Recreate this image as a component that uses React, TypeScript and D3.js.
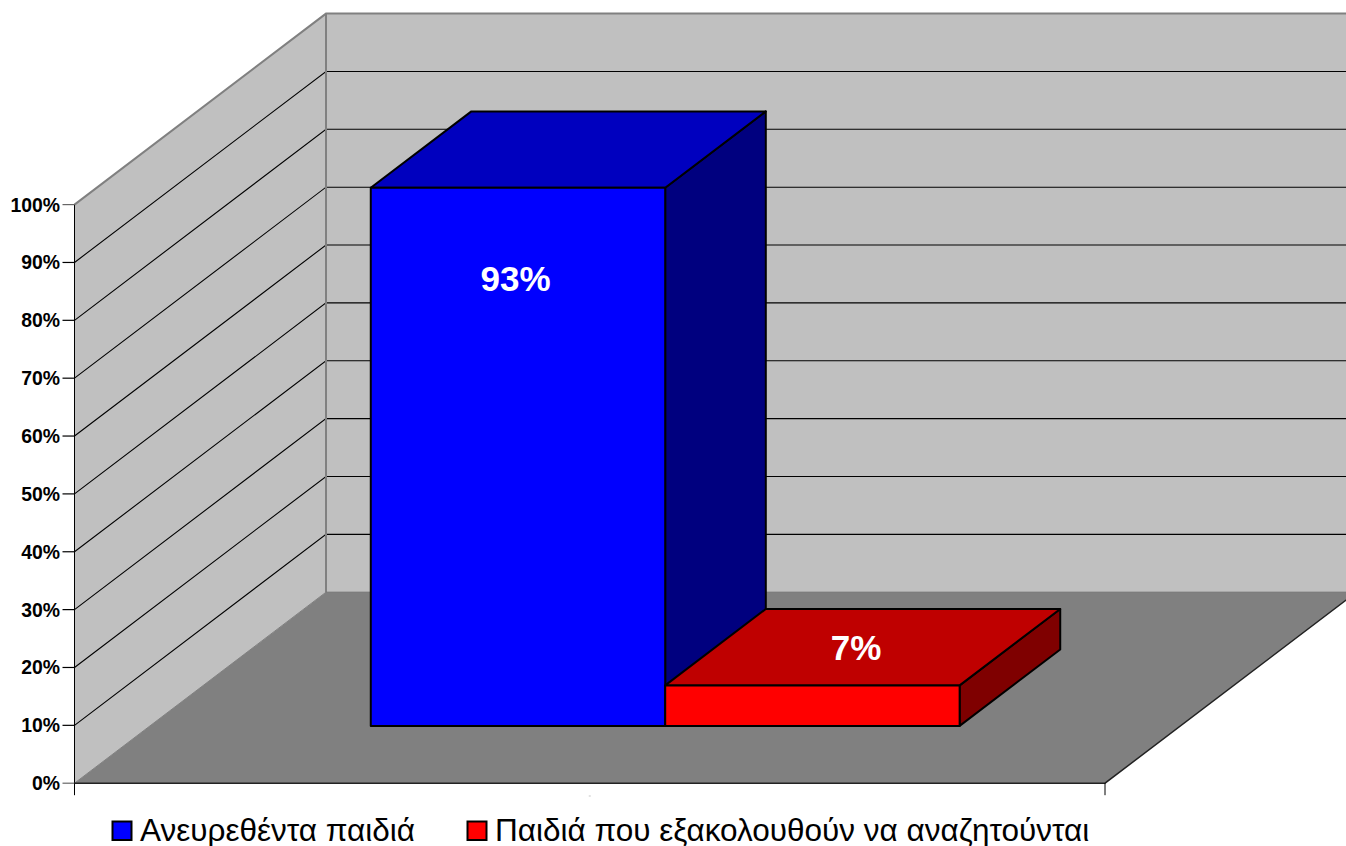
import React from "react";
import * as d3 from "d3";

const seriesNames = ["Ανευρεθέντα παιδιά", "Παιδιά που εξακολουθούν να αναζητούνται"];
const seriesValues = [93, 7];
const valueLabels = ["93%", "7%"];
const seriesFront = ["#0000ff", "#ff0000"];
const seriesTop = ["#0000bf", "#bf0000"];
const seriesSide = ["#00007f", "#7f0000"];
const ticks = [0, 10, 20, 30, 40, 50, 60, 70, 80, 90, 100];

const W = 1346, H = 846;
const sy = d3.scaleLinear().domain([0, 100]).range([783.2, 204.6]);
const sx = d3.scaleLinear().domain([0, 1]).range([74.5, 1105]);
const dx = d3.scaleLinear().domain([0, 1]).range([0, 251.5]);
const dy = d3.scaleLinear().domain([0, 1]).range([0, -191]);
const band = d3.scaleBand<number>().domain([0, 1]).range([0, 1]).paddingInner(0).paddingOuter(0.75);

const P = (x: number, v: number, d: number): [number, number] => [sx(x) + dx(d), sy(v) + dy(d)];
const poly = (pts: [number, number][]) => d3.line()(pts)! + "Z";

const D0 = 0.3, D1 = 0.7;
const FONT = "'Liberation Sans', Arial, sans-serif";

export default function App() {
  return (
    <svg width={W} height={H} style={{ position: "absolute", left: 0, top: 0, background: "#fff" }} fontFamily={FONT}>
      {/* walls */}
      <path d={poly([P(0, 0, 0), P(0, 100, 0), P(0, 100, 1), P(0, 0, 1)])} fill="#c0c0c0" />
      <path d={poly([P(0, 0, 1), P(0, 100, 1), P(1, 100, 1), P(1, 0, 1)])} fill="#c0c0c0" />
      {/* floor */}
      <path d={poly([P(0, 0, 0), P(0, 0, 1), P(1, 0, 1), P(1, 0, 0)])} fill="#808080" />
      {/* gridlines */}
      {ticks.filter(t => t > 0 && t < 100).map(t => (
        <path key={t} d={d3.line()([P(0, t, 0), P(0, t, 1), P(1, t, 1)])!} fill="none" stroke="#000" strokeWidth={1.1} />
      ))}
      {/* wall outline */}
      <path d={d3.line()([P(0, 100, 0), P(0, 100, 1), P(1, 100, 1)])!} fill="none" stroke="#808080" strokeWidth={2} />
      <path d={d3.line()([P(0, 100, 1), P(0, 0, 1)])!} fill="none" stroke="#808080" strokeWidth={2} />
      <path d={d3.line()([P(0, 0, 1), P(1, 0, 1)])!} fill="none" stroke="#707070" strokeWidth={1} />
      <path d={d3.line()([P(0, 0, 0), P(0, 0, 1)])!} fill="none" stroke="#808080" strokeWidth={1} />
      {/* axes */}
      <path d={d3.line()([P(0, 100, 0), P(0, 0, 0)])!} fill="none" stroke="#000" strokeWidth={1} />
      <path d={d3.line()([P(0, 0, 0), P(1, 0, 0), P(1, 0, 1)])!} fill="none" stroke="#222" strokeWidth={1.5} />
      {ticks.map(t => (
        <g key={t}>
          <line x1={sx(0) - 12} x2={sx(0)} y1={sy(t)} y2={sy(t)} stroke={t === 0 || t === 100 ? "#666" : "#000"} strokeWidth={1.2} />
          <text x={sx(0) - 14.5} y={sy(t)} dy="0.36em" textAnchor="end" fontSize={19.4} fontWeight={700} fill="#000">{t}%</text>
        </g>
      ))}
      {[0, 1].map(x => (
        <line key={x} x1={sx(x)} x2={sx(x)} y1={sy(0)} y2={sy(0) + 12} stroke="#000" strokeWidth={1} />
      ))}
      <rect x={sx(0.5) - 1} y={795} width={2} height={2} fill="#e2e2e2" />
      {/* bars */}
      {seriesValues.map((v, i) => {
        const x0 = band(i)!, x1 = x0 + band.bandwidth();
        const common = { stroke: "#000", strokeWidth: 2, strokeLinejoin: "round" as const };
        return (
          <g key={i}>
            <path d={poly([P(x1, 0, D0), P(x1, v, D0), P(x1, v, D1), P(x1, 0, D1)])} fill={seriesSide[i]} {...common} />
            <path d={poly([P(x0, v, D0), P(x0, v, D1), P(x1, v, D1), P(x1, v, D0)])} fill={seriesTop[i]} {...common} />
            <path d={poly([P(x0, 0, D0), P(x0, v, D0), P(x1, v, D0), P(x1, 0, D0)])} fill={seriesFront[i]} {...common} />
          </g>
        );
      })}
      {/* value labels */}
      <text x={515.5} y={278} dy="0.36em" textAnchor="middle" fontSize={35} fontWeight={700} fill="#fff">{valueLabels[0]}</text>
      <text x={856} y={647} dy="0.36em" textAnchor="middle" fontSize={35} fontWeight={700} fill="#fff">{valueLabels[1]}</text>
      {/* legend */}
      <rect x={112.5} y={821.5} width={19} height={18.5} fill={seriesFront[0]} stroke="#000" strokeWidth={2} />
      <text x={140} y={840.5} fontSize={31.5} fill="#000">{seriesNames[0]}</text>
      <rect x={467.5} y={821.5} width={19} height={18.5} fill={seriesFront[1]} stroke="#000" strokeWidth={2} />
      <text x={495} y={840.5} fontSize={31.5} fill="#000">{seriesNames[1]}</text>
    </svg>
  );
}
